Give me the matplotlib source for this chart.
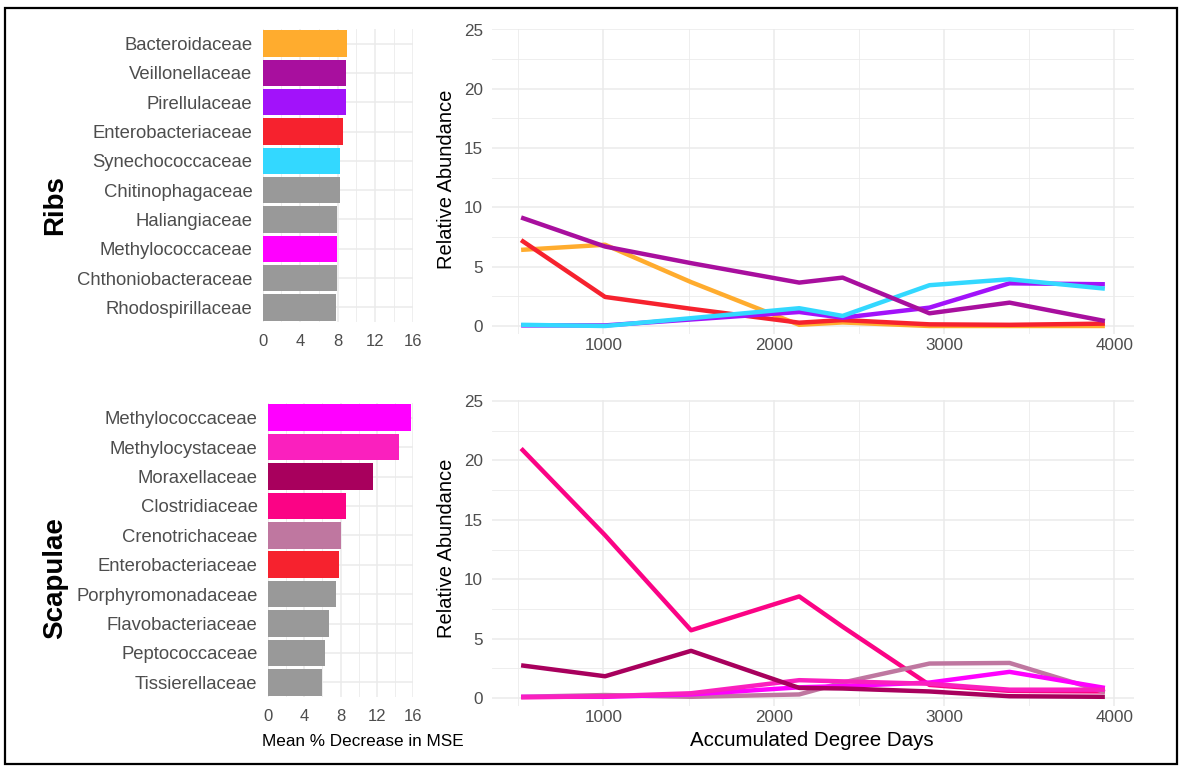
import numpy as np
import matplotlib
matplotlib.use('Agg')
import matplotlib.pyplot as plt
from matplotlib.patches import Rectangle

plt.rcParams['font.family'] = ['Liberation Sans', 'DejaVu Sans']

# bar data (Mean % decrease in MSE)
ribs_families = ['Bacteroidaceae', 'Veillonellaceae', 'Pirellulaceae', 'Enterobacteriaceae',
                 'Synechococcaceae', 'Chitinophagaceae', 'Haliangiaceae', 'Methylococcaceae',
                 'Chthoniobacteraceae', 'Rhodospirillaceae']
ribs_mse = [9.0, 8.9, 8.85, 8.53, 8.25, 8.25, 7.96, 7.96, 7.96, 7.85]

scap_families = ['Methylococcaceae', 'Methylocystaceae', 'Moraxellaceae', 'Clostridiaceae',
                 'Crenotrichaceae', 'Enterobacteriaceae', 'Porphyromonadaceae',
                 'Flavobacteriaceae', 'Peptococcaceae', 'Tissierellaceae']
scap_mse = [15.78, 14.46, 11.6, 8.55, 8.04, 7.85, 7.52, 6.72, 6.24, 5.95]

# line data (relative abundance vs ADD)
add = [517, 1010, 1515, 2150, 2405, 2915, 3385, 3945]

ribs_lines = {
    'Bacteroidaceae': [6.42, 6.85, 3.7, 0.1, 0.3, 0.0, 0.0, 0.0],
    'Enterobacteriaceae': [7.24, 2.45, 1.45, 0.28, 0.5, 0.14, 0.1, 0.2],
    'Pirellulaceae': [0.05, 0.05, 0.55, 1.18, 0.7, 1.55, 3.6, 3.52],
    'Synechococcaceae': [0.1, 0.0, 0.66, 1.5, 0.85, 3.44, 3.94, 3.15],
    'Veillonellaceae': [9.15, 6.7, 5.3, 3.66, 4.08, 1.07, 1.97, 0.42],
}

scap_lines = {
    'Clostridiaceae': [21.0, 13.7, 5.7, 8.55, 6.0, 1.1, 0.6, 0.55],
    'Crenotrichaceae': [0.1, 0.25, 0.1, 0.3, 1.3, 2.9, 2.95, 0.5],
    'Methylococcaceae': [0.1, 0.1, 0.3, 0.9, 1.0, 1.3, 2.2, 0.85],
    'Methylocystaceae': [0.05, 0.15, 0.4, 1.5, 1.4, 1.2, 0.7, 0.7],
    'Moraxellaceae': [2.75, 1.83, 3.97, 0.85, 0.8, 0.55, 0.15, 0.1],
}

colors = {
    'Bacteroidaceae': '#FFAC2E',
    'Veillonellaceae': '#A80F9E',
    'Pirellulaceae': '#A212FA',
    'Enterobacteriaceae': '#F6222E',
    'Synechococcaceae': '#33D8FF',
    'Methylococcaceae': '#FF00FF',
    'Methylocystaceae': '#FA20BE',
    'Moraxellaceae': '#A8005D',
    'Clostridiaceae': '#FB0385',
    'Crenotrichaceae': '#BF77A0',
}
GREY = '#999999'
GRID = '#EBEBEB'
TICK = '#4D4D4D'

W, H = 1182, 769
fig = plt.figure(figsize=(W / 100, H / 100), dpi=100)


def box(x0, y0, x1, y1):
    # pixel box (top-left origin) -> figure fraction
    return [x0 / W, 1 - y1 / H, (x1 - x0) / W, (y1 - y0) / H]


def clean(ax):
    for s in ax.spines.values():
        s.set_visible(False)
    ax.tick_params(which='both', length=0, colors=TICK)
    ax.set_axisbelow(True)


def bar_panel(rect, fams, vals, pad_x):
    ax = fig.add_axes(rect)
    y = np.arange(len(fams))
    cols = [colors.get(f, GREY) for f in fams]
    ax.barh(y, vals, height=0.9, color=cols, zorder=2)
    ax.set_ylim(len(fams) - 0.5, -0.5)
    ax.set_xlim(0, 16)
    ax.set_yticks(y)
    ax.set_yticklabels(fams, fontsize=13.3)
    ax.set_xticks([0, 4, 8, 12, 16])
    ax.set_xticks([2, 6, 10, 14], minor=True)
    ax.tick_params(axis='x', labelsize=12, pad=pad_x)
    ax.tick_params(axis='y', pad=7.5)
    ax.grid(True, which='major', color=GRID, lw=1.1)
    ax.grid(True, which='minor', axis='x', color=GRID, lw=0.6)
    clean(ax)
    return ax


def line_panel(rect, series):
    ax = fig.add_axes(rect)
    for name, vals in series.items():
        ax.plot(add, vals, color=colors[name], lw=3.2, solid_capstyle='butt', zorder=3)
    ax.set_xlim(346, 4116)
    ax.set_ylim(-0.7, 25.05)
    ax.set_xticks([1000, 2000, 3000, 4000])
    ax.set_xticks([500, 1500, 2500, 3500], minor=True)
    ax.set_yticks([0, 5, 10, 15, 20, 25])
    ax.set_yticks([2.5, 7.5, 12.5, 17.5, 22.5], minor=True)
    ax.tick_params(axis='both', labelsize=12.3)
    ax.tick_params(axis='x', pad=2.5)
    ax.tick_params(axis='y', pad=6.5)
    ax.grid(True, which='major', color=GRID, lw=1.1)
    ax.grid(True, which='minor', color=GRID, lw=0.6)
    clean(ax)
    return ax


bar_panel(box(262.7, 29, 412.7, 322), ribs_families, ribs_mse, 9)
bar_panel(box(268, 403, 413.3, 697), scap_families, scap_mse, 8.5)
line_panel(box(492, 29.5 - 0.05 * 11.86, 1134, 326 + 0.7 * 11.86), ribs_lines)
line_panel(box(492, 401 - 0.05 * 11.88, 1134, 698 + 0.7 * 11.88), scap_lines)

# titles and axis labels
fig.text(55 / W, 1 - 205 / H, 'Ribs', rotation=90, ha='center', va='center',
         fontsize=20, fontweight='bold')
fig.text(55 / W, 1 - 578 / H, 'Scapulae', rotation=90, ha='center', va='center',
         fontsize=20, fontweight='bold')
fig.text(446 / W, 1 - 179 / H, 'Relative Abundance', rotation=90, ha='center', va='center',
         fontsize=14.5)
fig.text(446 / W, 1 - 548 / H, 'Relative Abundance', rotation=90, ha='center', va='center',
         fontsize=14.5)
fig.text(363 / W, 1 - 742 / H, 'Mean % Decrease in MSE', ha='center', va='center', fontsize=12.3)
fig.text(812 / W, 1 - 741 / H, 'Accumulated Degree Days', ha='center', va='center', fontsize=14.8)

# black frame around the whole figure
fig.patches.append(Rectangle((5 / W, 1 - 764 / H), 1172 / W, 756 / H, transform=fig.transFigure,
                             fill=False, edgecolor='black', lw=1.6))

fig.savefig('out.png', dpi=100)
